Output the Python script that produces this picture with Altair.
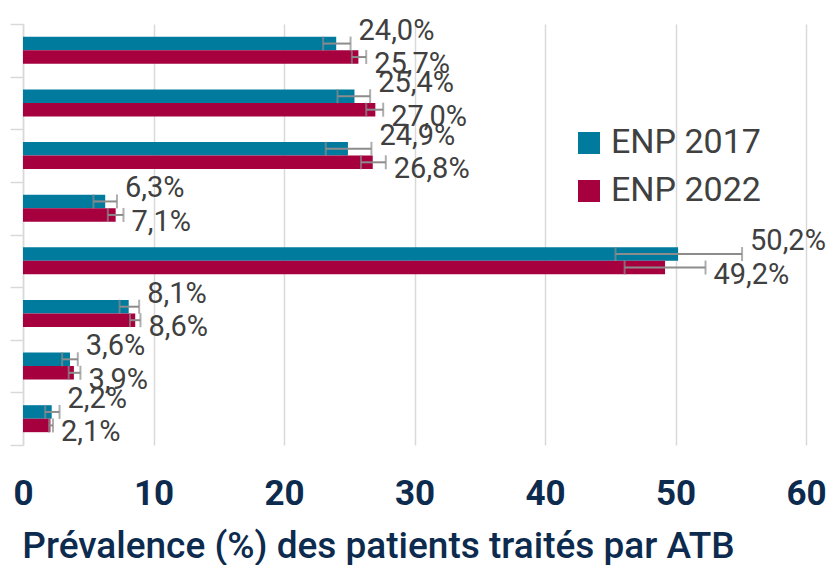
import altair as alt
import pandas as pd

categories = ["Catégorie 1", "Catégorie 2", "Catégorie 3", "Catégorie 4",
              "Catégorie 5", "Catégorie 6", "Catégorie 7", "Catégorie 8"]
series = ["ENP 2017", "ENP 2022"]

v2017 = [24.0, 25.4, 24.9, 6.3, 50.2, 8.1, 3.6, 2.2]
v2022 = [25.7, 27.0, 26.8, 7.1, 49.2, 8.6, 3.9, 2.1]

lo2017 = [23.0, 24.1, 23.2, 5.4, 45.4, 7.4, 3.0, 1.7]
hi2017 = [25.1, 26.6, 26.7, 7.2, 55.1, 8.9, 4.2, 2.8]
lo2022 = [25.2, 26.3, 25.9, 6.5, 46.1, 8.2, 3.5, 2.0]
hi2022 = [26.3, 27.6, 27.8, 7.7, 52.3, 9.0, 4.4, 2.3]

x_ticks = [0, 10, 20, 30, 40, 50, 60]

rows = []
for i, c in enumerate(categories):
    for s, vals, lo, hi in [(series[0], v2017, lo2017, hi2017),
                            (series[1], v2022, lo2022, hi2022)]:
        rows.append(dict(cat=c, series=s, value=vals[i], lo=lo[i], hi=hi[i],
                         label=f"{vals[i]:.1f}".replace(".", ",") + "%"))
df = pd.DataFrame(rows)

TEAL = "#007B9E"
CRIMSON = "#A6003F"
NAVY = "#0D2B4E"
GREY_TXT = "#404040"
ERR = "#8C8C8C"
GRID = "#D9D9D9"

x_scale = alt.Scale(domain=[0, 60], nice=False)
y_enc = alt.Y("cat:N", sort=categories,
              scale=alt.Scale(paddingInner=0, paddingOuter=0),
              axis=alt.Axis(labels=False, title=None, domainColor=GRID,
                            domainWidth=1.5, tickColor=GRID, tickWidth=1.5,
                            tickSize=13, tickBand="extent", grid=False))
yoff = alt.YOffset("series:N", sort=series,
                   scale=alt.Scale(paddingOuter=0.95, paddingInner=0))

x_axis = alt.Axis(values=x_ticks, domain=False, ticks=False, tickSize=0,
                  grid=True, gridColor=GRID, gridWidth=1.5,
                  labelFont="Roboto", labelFontSize=35, labelFontWeight="bold",
                  labelColor=NAVY, labelBaseline="middle", labelPadding=48,
                  labelFlush=False,
                  title="Prévalence (%) des patients traités par ATB",
                  titleFont="Roboto", titleFontSize=37, titleFontWeight=500,
                  titleColor=NAVY, titleX=355, titleY=112,
                  titleBaseline="alphabetic", titleAlign="center",
                  titleAnchor="start")

color = alt.Color("series:N",
                  scale=alt.Scale(domain=series, range=[TEAL, CRIMSON]),
                  legend=alt.Legend(title=None, orient="none", legendX=549,
                                    legendY=102, symbolType="square",
                                    symbolSize=484, symbolStrokeWidth=0,
                                    labelFont="Roboto", labelFontSize=34,
                                    labelColor=GREY_TXT, labelOffset=5,
                                    rowPadding=14, padding=0))

base = alt.Chart(df)

bars = base.mark_bar().encode(
    x=alt.X("value:Q", scale=x_scale, axis=x_axis),
    y=y_enc, yOffset=yoff, color=color)

err = base.mark_rule(color=ERR, strokeWidth=2).encode(
    x="lo:Q", x2="hi:Q", y=y_enc, yOffset=yoff)

cap_lo = base.mark_tick(color=ERR, thickness=2, size=14).encode(
    x="lo:Q", y=y_enc, yOffset=yoff)
cap_hi = base.mark_tick(color=ERR, thickness=2, size=14).encode(
    x="hi:Q", y=y_enc, yOffset=yoff)

lab17 = base.transform_filter(alt.datum.series == series[0]).mark_text(
    align="left", baseline="middle", dx=8, dy=-13, font="Roboto",
    fontSize=29, color=GREY_TXT).encode(
    x="hi:Q", y=y_enc, yOffset=yoff, text="label:N")
lab22 = base.transform_filter(alt.datum.series == series[1]).mark_text(
    align="left", baseline="middle", dx=8, dy=7, font="Roboto",
    fontSize=29, color=GREY_TXT).encode(
    x="hi:Q", y=y_enc, yOffset=yoff, text="label:N")

chart = alt.layer(bars, err, cap_lo, cap_hi, lab17, lab22).properties(
    width=783, height=421,
    autosize=alt.AutoSizeParams(type="none"),
    padding={"left": 15, "top": 16, "right": 20, "bottom": 120},
).configure_view(stroke=None)

chart.save("out.html", embed_options={"renderer": "svg", "actions": False})
